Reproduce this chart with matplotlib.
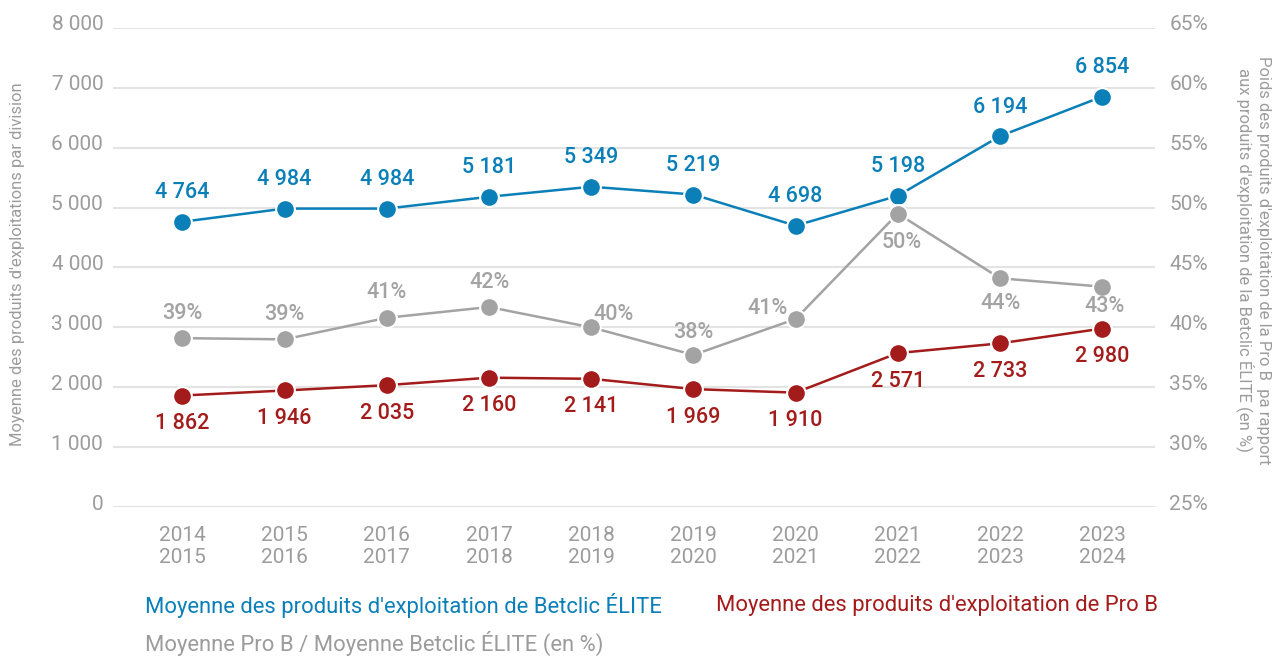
import numpy as np
import matplotlib
matplotlib.use("Agg")
from matplotlib import pyplot as plt, transforms

plt.rcParams['font.family'] = ['Roboto', 'DejaVu Sans']

seasons = ['2014\n2015', '2015\n2016', '2016\n2017', '2017\n2018', '2018\n2019',
           '2019\n2020', '2020\n2021', '2021\n2022', '2022\n2023', '2023\n2024']
elite = [4764, 4984, 4984, 5181, 5349, 5219, 4698, 5198, 6194, 6854]
prob = [1862, 1946, 2035, 2160, 2141, 1969, 1910, 2571, 2733, 2980]
ratio = [39.1, 39.0, 40.8, 41.7, 40.0, 37.7, 40.7, 49.5, 44.1, 43.4]

BLUE = '#0a7fb8'
RED = '#a31b1b'
GREY = '#a3a3a3'
TXT = '#9c9c9c'

fig = plt.figure(figsize=(12.88, 6.57), dpi=100)
ax = fig.add_axes([0.0877, 0.2283, 0.8093, 0.7291])
ax2 = ax.twinx()

x = np.arange(len(seasons))

ax.set_ylim(0, 8000)
ax.set_yticks(np.arange(0, 8001, 1000))
ax.set_yticklabels([f"{v:,}".replace(',', ' ') for v in range(0, 8001, 1000)])
ax2.set_ylim(25, 65)
ax2.set_yticks(np.arange(25, 66, 5))
ax2.set_yticklabels([f"{v}%" for v in range(25, 66, 5)])
ax.set_xlim(-0.68, 9.52)
ax.set_xticks(x)
ax.set_xticklabels(seasons, linespacing=1.2)

ax.grid(axis='y', color='#e3e3e3', linewidth=1.5, zorder=0)
ax.set_axisbelow(True)
for a in (ax, ax2):
    for s in a.spines.values():
        s.set_visible(False)
    a.tick_params(length=0, labelsize=15, labelcolor=TXT)
ax.tick_params(axis='y', pad=7)
ax2.tick_params(axis='y', pad=10)
ax.tick_params(axis='x', pad=14, labelsize=15)

# shift y tick labels a bit above the gridlines
shift = transforms.ScaledTranslation(0, 5 / 100, fig.dpi_scale_trans)
for lab in ax.get_yticklabels() + ax2.get_yticklabels():
    lab.set_transform(lab.get_transform() + shift)

mk = dict(marker='o', markersize=13.5, markeredgecolor='white', markeredgewidth=1.5, linewidth=1.8)
ax.plot(x, elite, color=BLUE, zorder=4, **mk)
ax.plot(x, prob, color=RED, zorder=4, **mk)
ax2.plot(x, ratio, color=GREY, zorder=3, **mk)

fmt = lambda v: f"{v:,}".replace(',', ' ')
for i in x:
    ax.annotate(fmt(elite[i]), (i, elite[i]), xytext=(0, 29), textcoords='offset pixels',
                ha='center', va='center', color=BLUE, fontsize=15.5, fontweight='medium')
    ax.annotate(fmt(prob[i]), (i, prob[i]), xytext=(0, -28), textcoords='offset pixels',
                ha='center', va='center', color=RED, fontsize=15.5, fontweight='medium')

grey_off = [(0, 25), (0, 25), (0, 25), (0, 25), (22, 13), (0, 22), (-28, 10), (4, -29), (0, -25), (2, -20)]
for i in x:
    ax2.annotate(f"{round(ratio[i])}%", (i, ratio[i]), xytext=grey_off[i], textcoords='offset pixels',
                 ha='center', va='center', color=GREY, fontsize=15.5, fontweight='medium')

fig.text(0.0135, 0.598, "Moyenne des produits d'exploitations par division", rotation=90,
         ha='center', va='center', color=TXT, fontsize=12)
fig.text(0.973, 0.604, "Poids des produits d'exploitation de la Pro B  pa rapport\naux produits d'exploitation de la Betclic ÉLITE (en %)",
         rotation=270, ha='center', va='center', color=TXT, fontsize=12, linespacing=1.1)

fig.text(0.1125, 0.079, "Moyenne des produits d'exploitation de Betclic ÉLITE", color=BLUE,
         fontsize=15.8, va='center', ha='left')
fig.text(0.556, 0.079, "Moyenne des produits d'exploitation de Pro B", color=RED,
         fontsize=15.8, va='center', ha='left')
fig.text(0.1125, 0.021, "Moyenne Pro B / Moyenne Betclic ÉLITE (en %)", color=TXT,
         fontsize=15.8, va='center', ha='left')

fig.savefig('out.png', dpi=100)
